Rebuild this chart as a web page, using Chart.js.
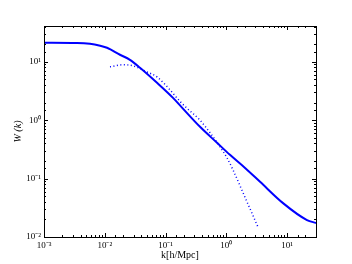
<!DOCTYPE html>
<html>
<head>
<meta charset="utf-8">
<script src="https://cdn.jsdelivr.net/npm/chart.js@4"></script>
<style>
  html, body { margin: 0; padding: 0; background: #fff; }
  #wrap { width: 352px; height: 264px; }
</style>
</head>
<body>
<div id="wrap"><canvas id="wChart" width="352" height="264"></canvas></div>
<script>
// values
var kSolid = [0.001, 0.0035, 0.0057, 0.0084, 0.0109, 0.0178, 0.026, 0.038, 0.0725, 0.133, 0.187, 0.37, 0.705, 1.15, 2.04, 3.6, 8.6, 21.3, 30];
var wSolid = [21.2, 21.0, 20.3, 18.8, 17.4, 13.2, 10.8, 7.9, 4.37, 2.41, 1.64, 0.77, 0.41, 0.255, 0.152, 0.088, 0.038, 0.0195, 0.0174];
var kDotted = [0.0122, 0.02, 0.029, 0.0497, 0.0725, 0.119, 0.173, 0.226, 0.37, 0.54, 0.79, 1.03, 1.29, 1.89, 3.33];
var wDotted = [8.2, 8.9, 8.55, 6.7, 5.5, 3.3, 2.1, 1.6, 1.0, 0.61, 0.35, 0.226, 0.141, 0.057, 0.0148];
var supers = { '-': '\u207B', '0': '\u2070', '1': '\u00B9', '2': '\u00B2', '3': '\u00B3' };

function pts(xs, ys) {
    return xs.map(function (x, i) { return { x: x, y: ys[i] }; });
}
function decadeLabel(v) {
    var e = Math.log10(v);
    if (Math.abs(e - Math.round(e)) > 1e-6) return '';
    var s = String(Math.round(e)).split('').map(function (c) { return supers[c]; }).join('');
    return '10' + s;
}

// matplotlib style frame with ticks pointing inwards
var frameTicks = {
    id: 'frameTicks',
    afterDraw: function (chart) {
        var c = chart.ctx, a = chart.chartArea;
        c.save();
        c.strokeStyle = '#000';
        c.lineWidth = 1;
        c.strokeRect(a.left + 0.5, a.top + 0.5, a.right - a.left, a.bottom - a.top);
        c.beginPath();
        chart.scales.x.ticks.forEach(function (t) {
            var px = Math.round(chart.scales.x.getPixelForValue(t.value)) + 0.5;
            var len = decadeLabel(t.value) ? 4 : 2;
            c.moveTo(px, a.bottom); c.lineTo(px, a.bottom - len);
            c.moveTo(px, a.top); c.lineTo(px, a.top + len);
        });
        chart.scales.y.ticks.forEach(function (t) {
            var py = Math.round(chart.scales.y.getPixelForValue(t.value)) + 0.5;
            var len = decadeLabel(t.value) ? 4 : 2;
            c.moveTo(a.left, py); c.lineTo(a.left + len, py);
            c.moveTo(a.right, py); c.lineTo(a.right - len, py);
        });
        c.stroke();
        c.restore();
    }
};

var ctx = document.getElementById('wChart').getContext('2d');
var wChart = new Chart(ctx, {
    type: 'line',
    data: {
        datasets: [{
            data: pts(kSolid, wSolid),
            borderColor: 'rgb(0, 0, 255)',
            borderWidth: 2,
            pointRadius: 0,
            cubicInterpolationMode: 'monotone'
        }, {
            data: pts(kDotted, wDotted),
            borderColor: 'rgb(0, 0, 255)',
            borderWidth: 1.5,
            borderDash: [1, 2.5],
            pointRadius: 0,
            cubicInterpolationMode: 'monotone'
        }]
    },
    options: {
        responsive: false,
        animation: false,
        layout: { padding: { left: 12, right: 36, top: 26, bottom: 0 } },
        plugins: {
            legend: { display: false },
            tooltip: { enabled: false }
        },
        scales: {
            x: {
                type: 'logarithmic',
                min: 0.001,
                max: 30,
                grid: { display: false, drawTicks: false },
                border: { display: false },
                afterFit: function (s) { s.height = 27; },
                ticks: {
                    autoSkip: false,
                    maxRotation: 0,
                    padding: 3,
                    color: '#000',
                    font: { family: 'Liberation Serif', size: 9 },
                    callback: function (v) { return decadeLabel(v); }
                },
                title: {
                    display: true,
                    text: 'k[h/Mpc]',
                    color: '#000',
                    padding: { top: 0, bottom: 3 },
                    font: { family: 'Liberation Serif', size: 10 }
                }
            },
            y: {
                type: 'logarithmic',
                min: 0.01,
                max: 41,
                grid: { display: false, drawTicks: false },
                border: { display: false },
                afterFit: function (s) { s.width = 32; },
                ticks: {
                    autoSkip: false,
                    padding: 3,
                    color: '#000',
                    font: { family: 'Liberation Serif', size: 9 },
                    callback: function (v) { return decadeLabel(v); }
                },
                title: {
                    display: true,
                    text: 'W (k)',
                    color: '#000',
                    padding: { top: 0, bottom: 2 },
                    font: { family: 'Liberation Serif', size: 10, style: 'italic' }
                }
            }
        }
    },
    plugins: [frameTicks]
});
</script>
</body>
</html>
